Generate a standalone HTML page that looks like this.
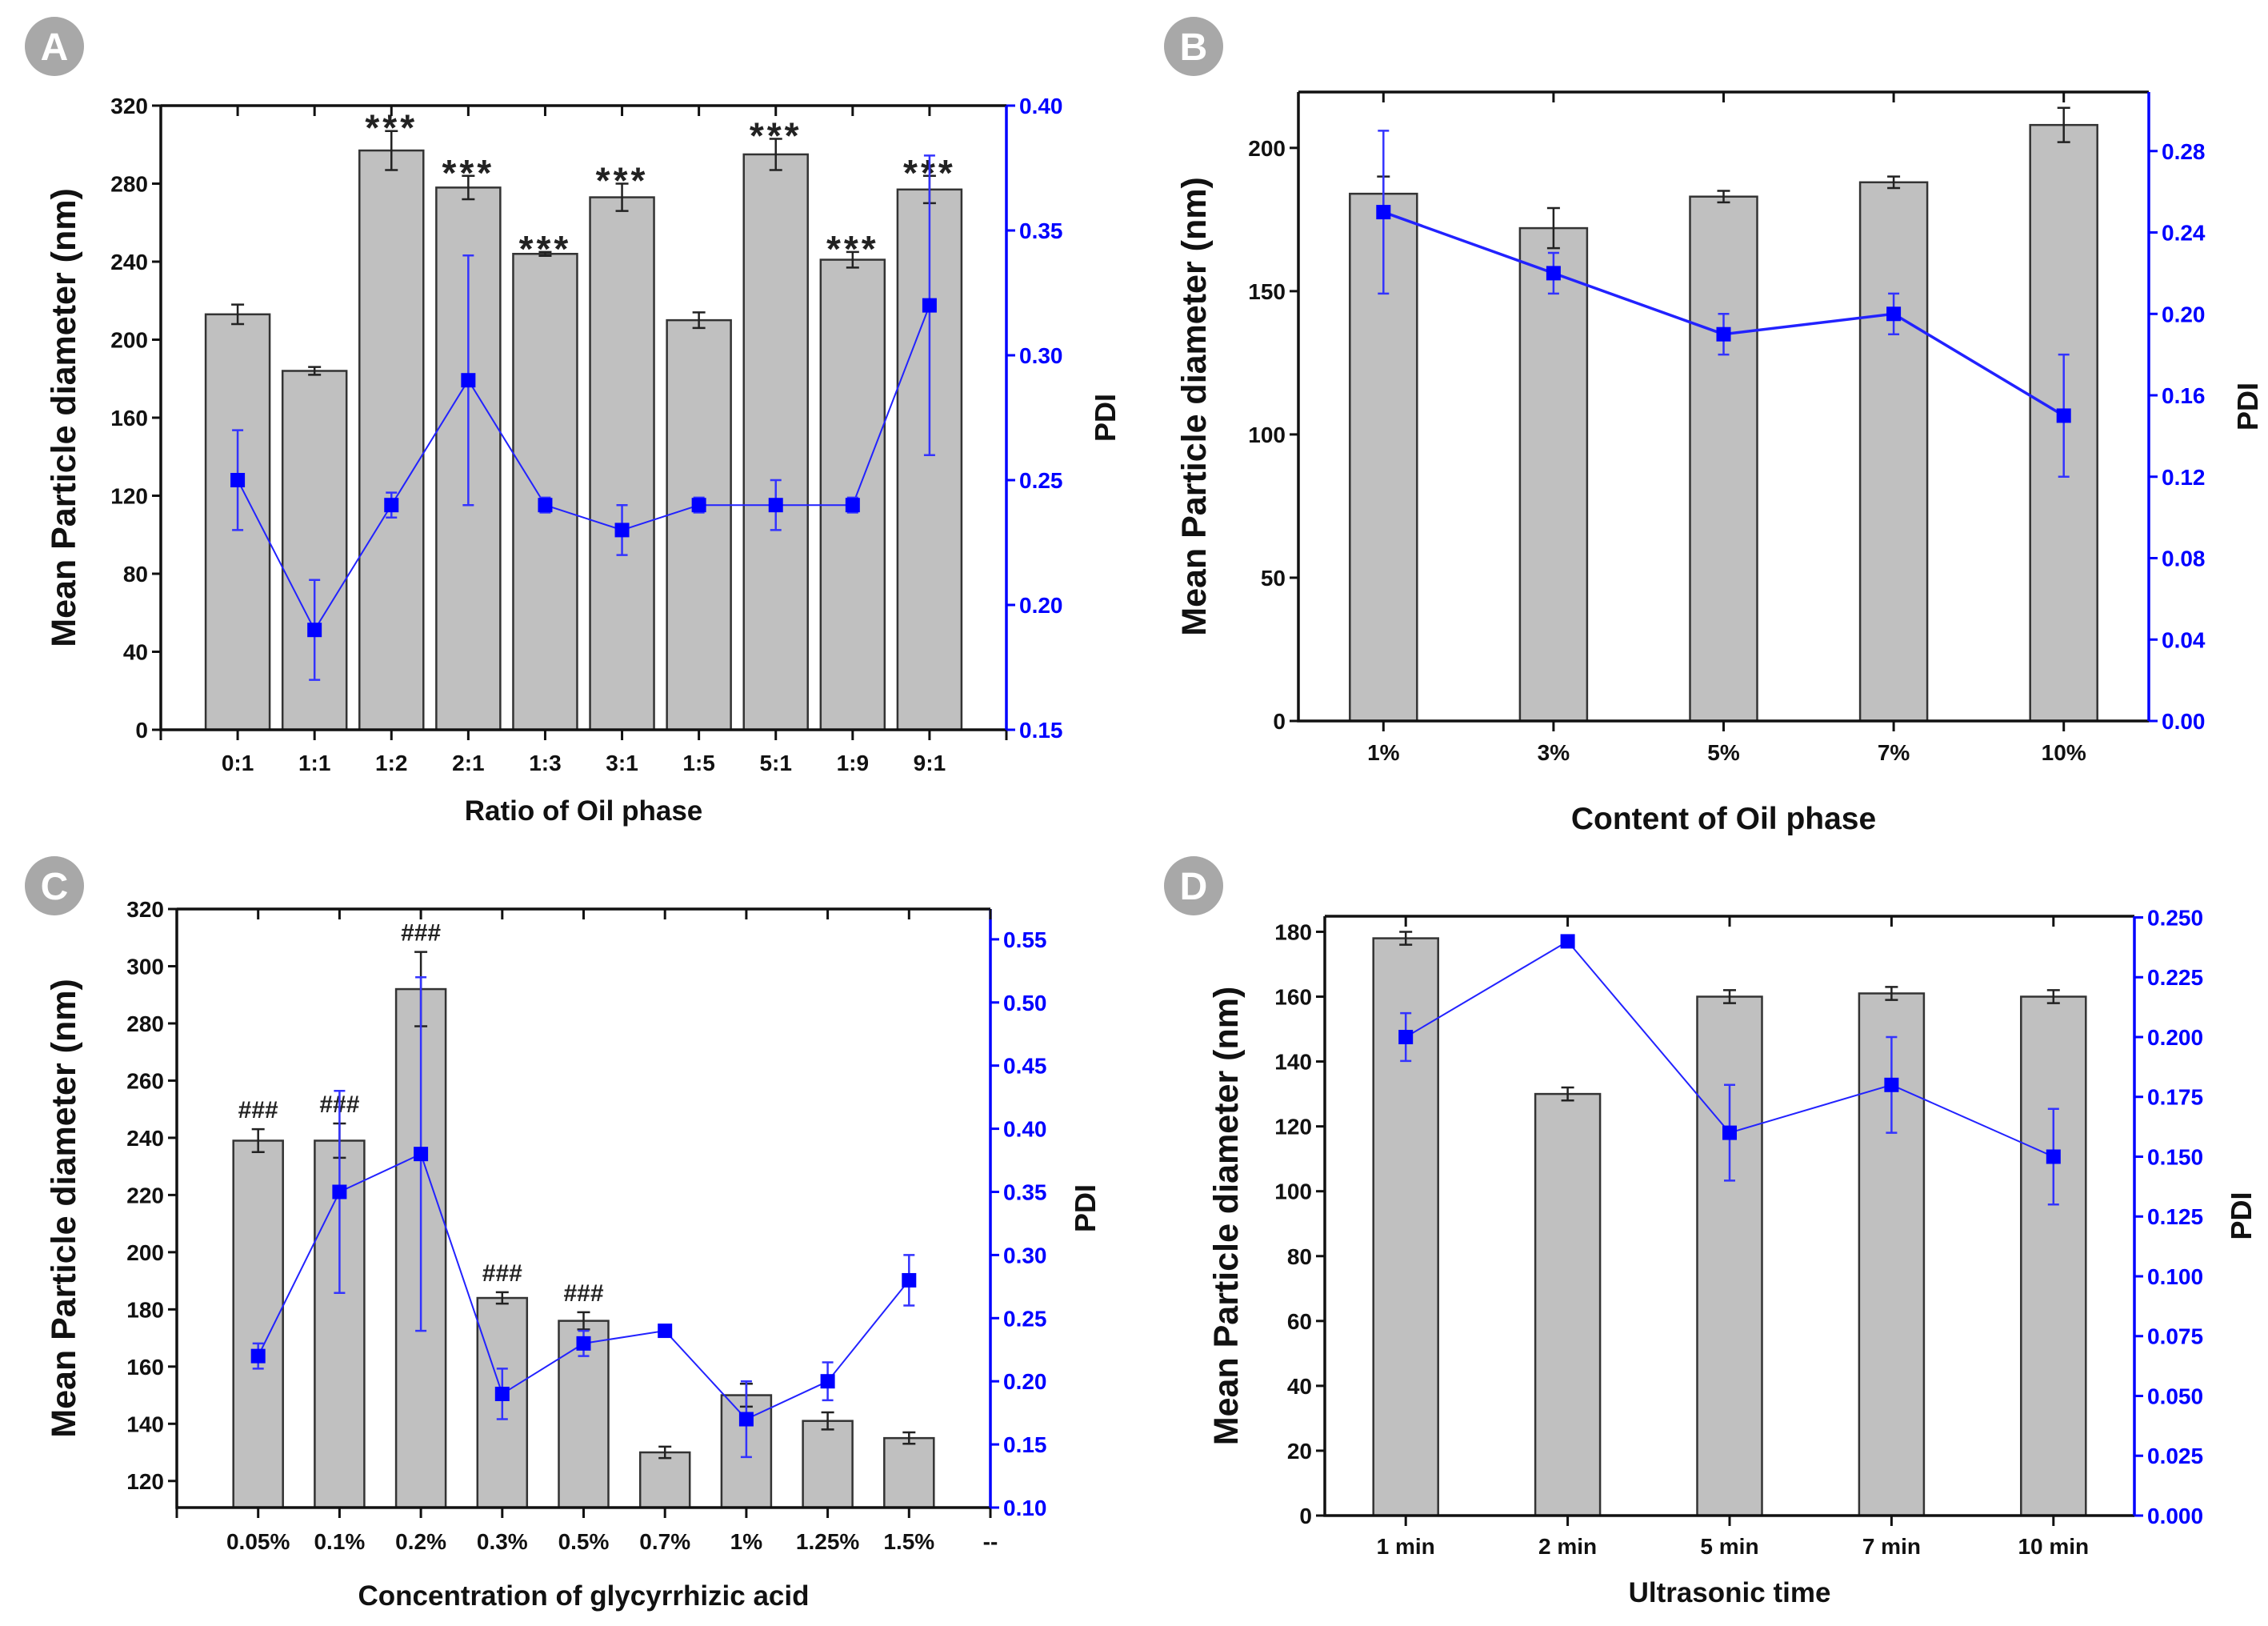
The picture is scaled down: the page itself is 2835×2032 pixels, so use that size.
<!DOCTYPE html>
<html><head><meta charset="utf-8">
<style>
html,body{margin:0;padding:0;background:#fff;}
svg{display:block;}
text{font-family:"Liberation Sans Narrow","Liberation Sans",sans-serif;font-weight:bold;}
</style></head>
<body>
<svg id="fig" width="2835" height="2032" viewBox="0 0 2835 2032" xmlns="http://www.w3.org/2000/svg"></svg>
<script>
// ---- Panel A data ----
const catsA = ["0:1","1:1","1:2","2:1","1:3","3:1","1:5","5:1","1:9","9:1"];
const barsA = [213,184,297,278,244,273,210,295,241,277];
const barErrA = [5,2,10,6,1,7,4,8,4,7];
const pdiA = [0.25,0.19,0.24,0.29,0.24,0.23,0.24,0.24,0.24,0.32];
const pdiErrA = [0.02,0.02,0.005,0.05,0.003,0.01,0.003,0.01,0.003,0.06];
const sigA = ["","","***","***","***","***","","***","***","***"];
const leftTicksA = ["0","40","80","120","160","200","240","280","320"];
const rightTicksA = ["0.15","0.20","0.25","0.30","0.35","0.40"];
// ---- Panel B data ----
const catsB = ["1%","3%","5%","7%","10%"];
const barsB = [184,172,183,188,208];
const barErrB = [6,7,2,2,6];
const pdiB = [0.25,0.22,0.19,0.20,0.15];
const pdiErrB = [0.04,0.01,0.01,0.01,0.03];
const leftTicksB = ["0","50","100","150","200"];
const rightTicksB = ["0.00","0.04","0.08","0.12","0.16","0.20","0.24","0.28"];
// ---- Panel C data ----
const catsC = ["0.05%","0.1%","0.2%","0.3%","0.5%","0.7%","1%","1.25%","1.5%","--"];
const barsC = [239,239,292,184,176,130,150,141,135];
const barErrC = [4,6,13,2,3,2,4,3,2];
const pdiC = [0.22,0.35,0.38,0.19,0.23,0.24,0.17,0.20,0.28];
const pdiErrC = [0.01,0.08,0.14,0.02,0.01,0,0.03,0.015,0.02];
const sigC = ["###","###","###","###","###","","","",""];
const leftTicksC = ["120","140","160","180","200","220","240","260","280","300","320"];
const rightTicksC = ["0.10","0.15","0.20","0.25","0.30","0.35","0.40","0.45","0.50","0.55"];
// ---- Panel D data ----
const catsD = ["1 min","2 min","5 min","7 min","10 min"];
const barsD = [178,130,160,161,160];
const barErrD = [2,2,2,2,2];
const pdiD = [0.20,0.24,0.16,0.18,0.15];
const pdiErrD = [0.01,0,0.02,0.02,0.02];
const leftTicksD = ["0","20","40","60","80","100","120","140","160","180"];
const rightTicksD = ["0.000","0.025","0.050","0.075","0.100","0.125","0.150","0.175","0.200","0.225","0.250"];

const NS="http://www.w3.org/2000/svg";
const svg=document.getElementById('fig');
function mk(tag,attrs,parent,txt){const e=document.createElementNS(NS,tag);for(const k in attrs)e.setAttribute(k,attrs[k]);if(txt!==undefined)e.textContent=txt;(parent||svg).appendChild(e);return e;}

function panel(o){
  const g=mk('g',{});
  
  
  const X=v=>o.L+(v-o.x0)/(o.x1-o.x0)*(o.R-o.L);
  const Y=v=>o.B-(v-o.y0)/(o.y1-o.y0)*(o.B-o.T);
  const Y2=v=>o.B-(v-o.r0)/(o.r1-o.r0)*(o.B-o.T);
  const c=mk('circle',{cx:o.cx,cy:o.cy,r:37,fill:'#a8a8a8'},g);
  
  mk('text',{x:o.cx,y:o.cy+17,'text-anchor':'middle','font-size':48,fill:'#fff','font-family':'Liberation Sans'},g,o.id);
  o.bars.forEach((v,i)=>{
    const x=X(i+1);
    const r=mk('rect',{x:x-o.bw/2,y:Y(v),width:o.bw,height:o.B-Y(v),fill:'#c0c0c0',stroke:'#333','stroke-width':2.5},g);
    
    const e=o.barErr[i];
    mk('path',{d:`M${x},${Y(v+e)}V${Y(v-e)}M${x-8},${Y(v+e)}h16M${x-8},${Y(v-e)}h16`,stroke:'#222','stroke-width':2.5,fill:'none'},g);
    if(o.sig&&o.sig[i]){
      const t=mk('text',{x:x,y:Y(v+e)+(o.sigDy||-4),'text-anchor':'middle','font-size':o.sigFs||34,fill:'#222','font-weight':'normal','font-family':'Liberation Sans','letter-spacing':o.sigLs||0},g,o.sig[i]);
      
    }
  });
  mk('path',{d:`M${o.L},${o.T}H${o.R}M${o.L},${o.T}V${o.B}H${o.R}`,stroke:'#111','stroke-width':3.5,fill:'none'},g);
  mk('path',{d:`M${o.R},${o.T}V${o.B}`,stroke:'#00f','stroke-width':3.5,fill:'none'},g);
  o.cats.forEach((cat,i)=>{
    const x=X(i+1);
    mk('path',{d:`M${x},${o.T}v13M${x},${o.B}v13`,stroke:'#111','stroke-width':3},g);
    const t=mk('text',{x:x,y:o.xly,'text-anchor':'middle','font-size':o.tfs,fill:'#111'},g,cat);
    
  });
  if(o.endTicks) mk('path',{d:`M${o.L},${o.B}v13M${o.R},${o.B}v13`,stroke:'#111','stroke-width':3},g);
  o.lt.forEach(s=>{const y=Y(parseFloat(s));
    mk('path',{d:`M${o.L},${y}h-11`,stroke:'#111','stroke-width':3},g);
    const t=mk('text',{x:o.L-16,y:y+10,'text-anchor':'end','font-size':o.tfs,fill:'#111'},g,s);
    
  });
  o.rt.forEach(s=>{const y=Y2(parseFloat(s));
    mk('path',{d:`M${o.R},${y}h11`,stroke:'#00f','stroke-width':3},g);
    const t=mk('text',{x:o.R+16,y:y+10,'text-anchor':'start','font-size':o.tfs,fill:'#00f'},g,s);
    
  });
  let d='';o.pdi.forEach((v,i)=>{d+=(i?'L':'M')+X(i+1)+','+Y2(v);});
  const ln=mk('path',{d:d,stroke:'#22f','stroke-width':o.lw,fill:'none'},g);
  
  o.pdi.forEach((v,i)=>{
    const x=X(i+1),e=o.pdiErr[i];
    if(e>0) mk('path',{d:`M${x},${Y2(v+e)}V${Y2(v-e)}M${x-7},${Y2(v+e)}h14M${x-7},${Y2(v-e)}h14`,stroke:'#33f','stroke-width':2.5,fill:'none'},g);
    const m=mk('rect',{x:x-9,y:Y2(v)-9,width:18,height:18,fill:'#00f'},g);
    
  });
  const yt=mk('text',{x:0,y:0,'text-anchor':'middle','font-size':43,fill:'#111','font-family':'Liberation Sans',transform:`translate(${o.ytx},${(o.T+o.B)/2}) rotate(-90)`},g,'Mean Particle diameter (nm)');
  
  const pt=mk('text',{x:0,y:0,'text-anchor':'middle','font-size':36,fill:'#111','font-family':'Liberation Sans',transform:`translate(${o.ptx},${(o.T+o.B)/2}) rotate(-90)`},g,'PDI');
  
  const xt=mk('text',{x:(o.L+o.R)/2,y:o.xty,'text-anchor':'middle','font-size':o.xtfs,fill:'#111'},g,o.xt);
  
}

panel({id:'A',L:201,R:1258,T:132,B:912,x0:0,x1:11,y0:0,y1:320,r0:0.15,r1:0.40,bw:80,
 cats:catsA,bars:barsA,barErr:barErrA,pdi:pdiA,pdiErr:pdiErrA,sig:sigA,lt:leftTicksA,rt:rightTicksA,
 cx:68,cy:58,tfs:28,xly:963,xt:'Ratio of Oil phase',xty:1025,xtfs:35,ytx:94,ptx:1394,lw:2,endTicks:true,sigFs:46,sigLs:4,sigDy:12});
panel({id:'B',L:1623,R:2686,T:115,B:901,x0:0.5,x1:5.5,y0:0,y1:219.5,r0:0,r1:0.309,bw:84,
 cats:catsB,bars:barsB,barErr:barErrB,pdi:pdiB,pdiErr:pdiErrB,lt:leftTicksB,rt:rightTicksB,
 cx:1492,cy:58,tfs:28,xly:950,xt:'Content of Oil phase',xty:1036,xtfs:39,ytx:1507,ptx:2822,lw:3.5});
panel({id:'C',L:221,R:1238,T:1136,B:1884,x0:0,x1:10,y0:110.7,y1:320,r0:0.10,r1:0.574,bw:62,
 cats:catsC,bars:barsC,barErr:barErrC,pdi:pdiC,pdiErr:pdiErrC,sig:sigC,lt:leftTicksC,rt:rightTicksC,
 cx:68,cy:1107,tfs:28,xly:1936,xt:'Concentration of glycyrrhizic acid',xty:2006,xtfs:35,ytx:94,ptx:1369,lw:2,endTicks:true,sigFs:30,sigDy:-14});
panel({id:'D',L:1656,R:2668,T:1145,B:1894,x0:0.5,x1:5.5,y0:0,y1:184.8,r0:0,r1:0.2505,bw:81,
 cats:catsD,bars:barsD,barErr:barErrD,pdi:pdiD,pdiErr:pdiErrD,lt:leftTicksD,rt:rightTicksD,
 cx:1492,cy:1107,tfs:28,xly:1942,xt:'Ultrasonic time',xty:2002,xtfs:35,ytx:1547,ptx:2814,lw:2});
</script>
</body></html>
